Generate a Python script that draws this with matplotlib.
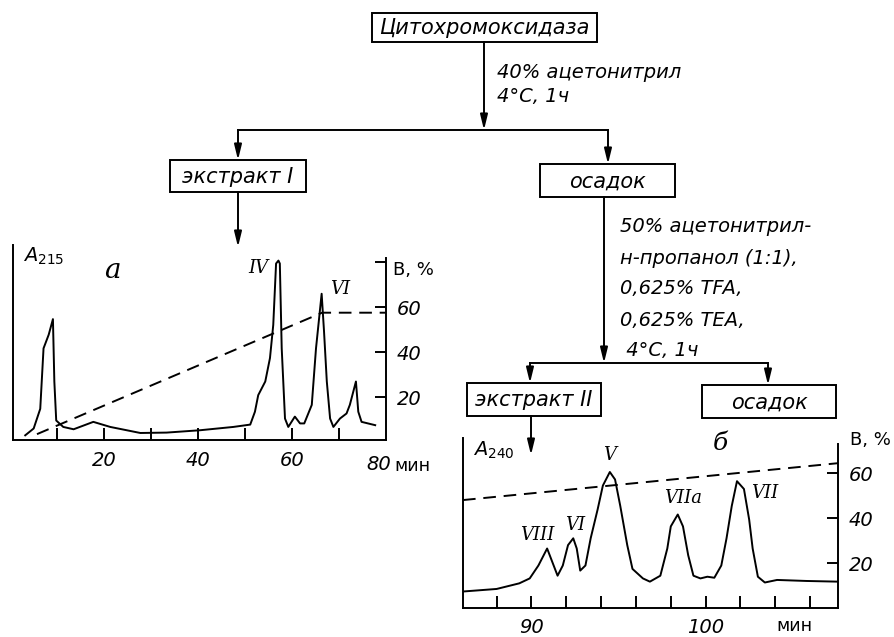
import matplotlib
matplotlib.use('Agg')
import matplotlib.pyplot as plt
from matplotlib.patches import Rectangle

plt.rcParams['font.family'] = ['DejaVu Sans']
plt.rcParams['mathtext.fontset'] = 'dejavusans'

# хроматограмма а (экстракт I): время, мин и поглощение A215 (усл. ед.)
time_a = [3.2, 5.0, 6.4, 7.1, 8.2, 9.1, 9.4, 9.8, 11.3, 13.5, 17.7, 21.3, 27.7, 33.3,
          40.4, 47.5, 51.1, 52.1, 52.8, 54.3, 55.3, 56.0, 56.6, 57.1, 57.4, 57.8, 58.5,
          59.2, 60.6, 61.7, 62.6, 64.2, 65.1, 66.3, 66.8, 67.4, 68.1, 68.8, 70.2, 71.6,
          72.3, 73.6, 74.1, 74.8, 77.7]
abs_a = [2.4, 5.9, 16, 47, 54, 62, 30, 10, 6.7, 5.5, 9.3, 6.7, 3.6, 3.8,
         5.0, 6.7, 7.9, 14.5, 23, 30, 42, 59, 90.5, 92, 90.5, 47, 11,
         6.7, 12, 8.5, 8.5, 18, 47, 75, 56, 30, 11, 6.7, 11, 13.6,
         18, 30, 14.5, 9.3, 7.6]
grad_time_a = [5.7, 66.4, 80]
grad_b_a = [3.5, 57.5, 57.5]

# хроматограмма б (экстракт II)
time_b = [86.07, 88.0, 89.3, 89.9, 90.4, 90.9, 91.2, 91.5, 91.8, 92.1, 92.4, 92.6, 92.8,
          93.1, 93.4, 93.8, 94.1, 94.5, 94.8, 95.1, 95.5, 95.8, 96.4, 96.8, 97.4, 97.8,
          98.0, 98.4, 98.7, 99.0, 99.3, 99.7, 100.1, 100.5, 100.9, 101.2, 101.5, 101.8,
          102.2, 102.5, 102.7, 103.0, 103.4, 104.1, 105.8, 107.6]
abs_b = [9.7, 11.2, 14.5, 17.4, 25, 35, 27, 19, 25, 37, 41, 35, 22,
         25, 41, 58, 72, 80, 75.6, 60, 37, 23, 17.4, 15.5, 19, 35,
         48, 55, 48, 31, 19, 17.4, 18.4, 17.8, 25, 41, 60, 74.6,
         70, 52, 35, 18.4, 15, 16.5, 15.9, 15.5]
grad_time_b = [86.07, 107.6]
grad_b_b = [48, 64.4]

W, H = 895, 637
LW = 1.4


def rect(x0, y0, x1, y1):
    return [x0 / W, 1 - y1 / H, (x1 - x0) / W, (y1 - y0) / H]


fig = plt.figure(figsize=(W / 100, H / 100), dpi=100)

# --- общая схема ---
ov = fig.add_axes([0, 0, 1, 1])
ov.set_xlim(0, W)
ov.set_ylim(H, 0)
ov.axis('off')

tfont = dict(style='italic', fontsize=14, color='black')


def box(x0, y0, x1, y1, label):
    ov.add_patch(Rectangle((x0, y0), x1 - x0, y1 - y0, fill=False, lw=LW, ec='black'))
    ov.text((x0 + x1) / 2, (y0 + y1) / 2 + 1, label, ha='center', va='center',
            style='italic', fontsize=15)


def arrow(x, y0, y1):
    ov.annotate('', xy=(x, y1), xytext=(x, y0),
                arrowprops=dict(arrowstyle='-|>,head_length=0.9,head_width=0.22',
                                lw=LW, color='black', shrinkA=0, shrinkB=0))


box(372, 13, 597, 42, 'Цитохромоксидаза')
arrow(484, 42, 130)
ov.text(497, 72, '40% ацетонитрил', ha='left', va='center', **tfont)
ov.text(497, 97, '4°C, 1ч', ha='left', va='center', **tfont)
ov.plot([238, 608], [130, 130], color='black', lw=LW)
arrow(238, 130, 160)
arrow(608, 130, 164)
box(170, 160, 306, 192, 'экстракт I')
arrow(238, 192, 247)
box(540, 164, 675, 197, 'осадок')
arrow(604, 197, 363)
for i, line in enumerate(['50% ацетонитрил-', 'н-пропанол (1:1),', '0,625% TFA,',
                          '0,625% TEA,', ' 4°C, 1ч']):
    ov.text(620, 227 + 31 * i, line, ha='left', va='center', **tfont)
ov.plot([530, 768], [363, 363], color='black', lw=LW)
arrow(530, 363, 383)
arrow(768, 363, 385)
box(467, 383, 601, 416, 'экстракт II')
box(702, 385, 836, 418, 'осадок')
arrow(531, 416, 455)

# --- хроматограмма а ---
ax = fig.add_axes(rect(13, 245, 386, 440))
ax.patch.set_alpha(0)
ax.plot(time_a, abs_a, color='black', lw=LW, solid_joinstyle='round')
ax.set_xlim(0.6, 80)
ax.set_ylim(0, 100)
ax.set_yticks([])
ax.set_xticks([10, 20, 30, 40, 50, 60, 70])
ax.set_xticklabels(['', '20', '', '40', '', '60', ''], style='italic', fontsize=14)
ax.tick_params(axis='x', direction='in', length=9, width=LW, pad=8)
ax.spines['top'].set_visible(False)
ax.spines['right'].set_visible(False)
for s in ['left', 'bottom']:
    ax.spines[s].set_linewidth(LW)
axb = ax.twinx()
axb.set_ylim(0.9, 87.6)
g, = axb.plot(grad_time_a, grad_b_a, color='black', lw=LW, ls='--')
g.set_dashes((6.5, 4))
axb.spines['right'].set_bounds(0.9, 82)
axb.spines['right'].set_linewidth(LW)
for s in ['top', 'left', 'bottom']:
    axb.spines[s].set_visible(False)
axb.set_yticks([20, 40, 60, 80])
axb.set_yticklabels(['20', '40', '60', ''], style='italic', fontsize=14)
axb.tick_params(axis='y', direction='in', length=8, width=LW, pad=8)
ov.text(23, 256, r'$A_{\mathit{215}}$', fontsize=14, ha='left', va='center', style='italic')
ov.text(112, 271, 'а', fontsize=20, ha='center', va='center', style='italic',
        family='DejaVu Serif')
ov.text(258, 268, 'IV', fontsize=13, ha='center', va='center', style='italic',
        family='DejaVu Serif')
ov.text(340, 289, 'VI', fontsize=13, ha='center', va='center', style='italic',
        family='DejaVu Serif')
ov.text(393, 270, 'B, %', fontsize=13, ha='left', va='center')
ov.text(379, 465, '80', fontsize=14, ha='center', va='center', style='italic')
ov.text(394, 466, 'мин', fontsize=12.5, ha='left', va='center')

# --- хроматограмма б ---
bx = fig.add_axes(rect(463, 438, 838, 608))
bx.patch.set_alpha(0)
bx.plot(time_b, abs_b, color='black', lw=LW, solid_joinstyle='round')
bx.set_xlim(86.07, 107.6)
bx.set_ylim(0, 100)
bx.set_yticks([])
bx.set_xticks([88, 90, 92, 94, 96, 98, 100, 102, 104, 106])
bx.set_xticklabels(['', '90', '', '', '', '', '100', '', '', ''], style='italic', fontsize=14)
bx.tick_params(axis='x', direction='in', length=9, width=LW, pad=7)
bx.spines['top'].set_visible(False)
bx.spines['right'].set_visible(False)
for s in ['left', 'bottom']:
    bx.spines[s].set_linewidth(LW)
bxb = bx.twinx()
bxb.set_ylim(0, 75.6)
g, = bxb.plot(grad_time_b, grad_b_b, color='black', lw=LW, ls='--')
g.set_dashes((6.5, 4))
bxb.spines['right'].set_bounds(0, 73)
bxb.spines['right'].set_linewidth(LW)
for s in ['top', 'left', 'bottom']:
    bxb.spines[s].set_visible(False)
bxb.set_yticks([20, 40, 60])
bxb.set_yticklabels(['20', '40', '60'], style='italic', fontsize=14)
bxb.tick_params(axis='y', direction='in', length=8, width=LW, pad=8)
ov.text(473, 450, r'$A_{\mathit{240}}$', fontsize=14, ha='left', va='center', style='italic')
ov.text(720, 443, 'б', fontsize=18, ha='center', va='center', style='italic',
        family='DejaVu Serif')
for lab, x, y in [('V', 610, 455), ('VIIa', 683, 498), ('VII', 765, 493),
                  ('VIII', 537, 535), ('VI', 575, 525)]:
    ov.text(x, y, lab, fontsize=13, ha='center', va='center', style='italic',
            family='DejaVu Serif')
ov.text(850, 440, 'B, %', fontsize=13, ha='left', va='center')
ov.text(776, 626, 'мин', fontsize=12.5, ha='left', va='center')

fig.savefig('out.png', dpi=100)
